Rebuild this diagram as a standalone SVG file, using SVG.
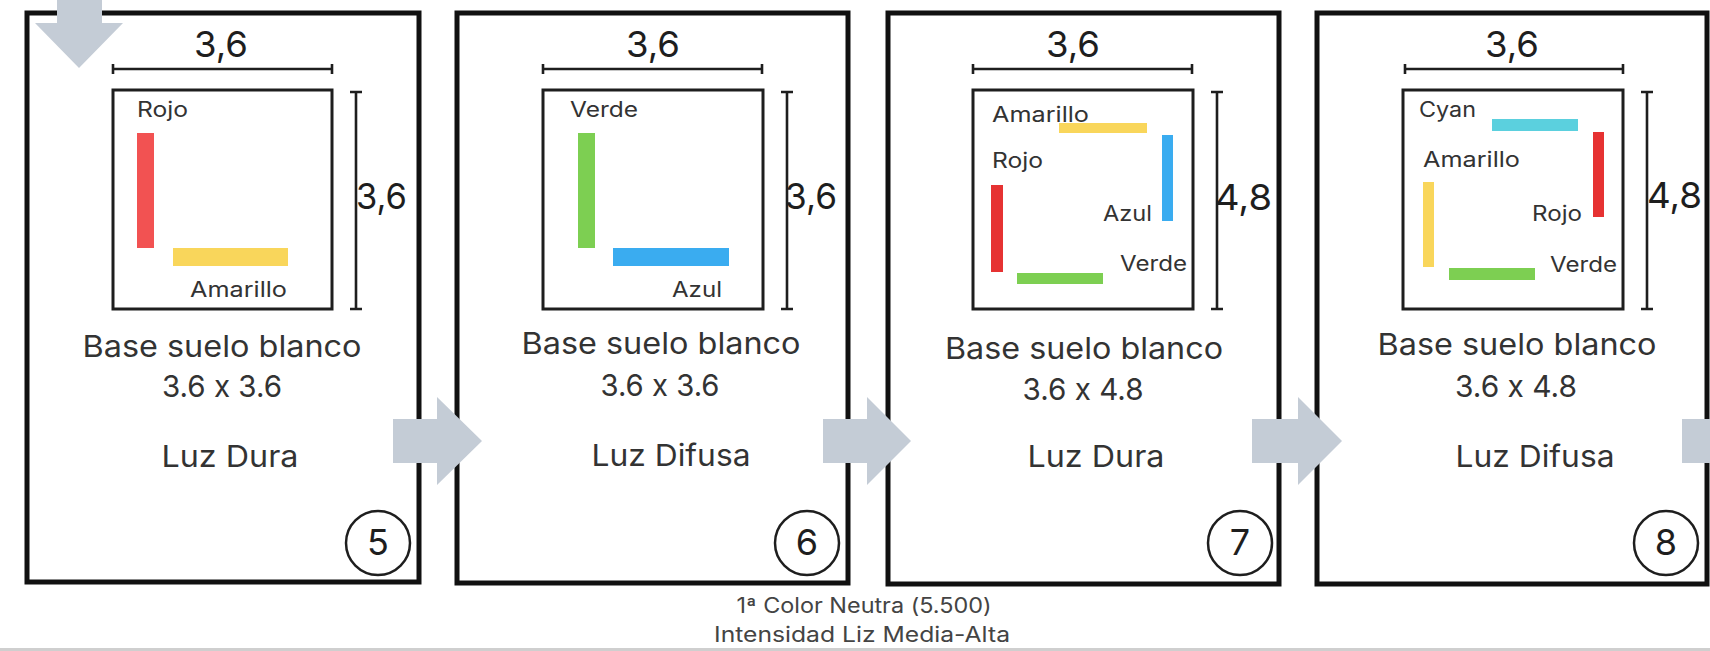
<svg xmlns="http://www.w3.org/2000/svg" width="1710" height="651" viewBox="0 0 1710 651">
<style>
text{font-family:Inter,"DejaVu Sans","Liberation Sans",sans-serif;fill:#2e2e2e;font-feature-settings:"calt" 0;font-variant-ligatures:none;}
.frame{fill:#fff;stroke:#111;stroke-width:5;}
.floor{fill:#fff;stroke:#1e1e1e;stroke-width:3;}
.dim{stroke:#1e1e1e;stroke-width:2.6;fill:none;}
.num{fill:none;stroke:#1e1e1e;stroke-width:2.5;}
.dl{font-size:36px;fill:#1e1e1e;}
.lbl{font-size:21px;fill:#333;}
.big{font-size:30px;fill:#333;text-anchor:middle;}
.cn{font-size:36px;fill:#1e1e1e;text-anchor:middle;}
.arr{fill:#c4ccd6;}
.foot{font-size:21px;fill:#444;text-anchor:middle;}
</style>
<rect x="0" y="0" width="1710" height="651" fill="#fff"/>
<line x1="0" y1="649.5" x2="1710" y2="649.5" stroke="#cfcfcf" stroke-width="3"/>

<g id="panel5">
<rect class="frame" x="27" y="13" width="392" height="569"/>
<path class="dim" d="M113,69H332M113,64V74M332,64V74"/>
<text class="dl" x="221" y="57" text-anchor="middle" textLength="54" lengthAdjust="spacingAndGlyphs">3,6</text>
<path class="dim" d="M356,92V309M350,92H362M350,309H362"/>
<text class="dl" x="356" y="209" textLength="51" lengthAdjust="spacingAndGlyphs">3,6</text>
<rect class="floor" x="113" y="90" width="219" height="219"/>
<text class="lbl" x="137" y="117" textLength="51" lengthAdjust="spacingAndGlyphs">Rojo</text>
<rect x="137" y="133" width="17" height="115" fill="#f25252"/>
<rect x="173" y="248" width="115" height="18" fill="#f9d65b"/>
<text class="lbl" x="190" y="297" textLength="97" lengthAdjust="spacingAndGlyphs">Amarillo</text>
<text class="big" x="222" y="357" textLength="279" lengthAdjust="spacingAndGlyphs">Base suelo blanco</text>
<text class="big" x="222" y="397" textLength="120" lengthAdjust="spacingAndGlyphs">3.6 x 3.6</text>
<text class="big" x="230" y="467" textLength="137" lengthAdjust="spacingAndGlyphs">Luz Dura</text>
<circle class="num" cx="378" cy="543" r="32"/>
<text class="cn" x="378" y="555">5</text>
</g>

<g id="panel6">
<rect class="frame" x="457" y="13" width="391" height="570"/>
<path class="dim" d="M543,69H762M543,64V74M762,64V74"/>
<text class="dl" x="653" y="57" text-anchor="middle" textLength="54" lengthAdjust="spacingAndGlyphs">3,6</text>
<path class="dim" d="M787,92V309M781,92H793M781,309H793"/>
<text class="dl" x="785" y="209" textLength="52" lengthAdjust="spacingAndGlyphs">3,6</text>
<rect class="floor" x="543" y="90" width="220" height="219"/>
<text class="lbl" x="570" y="117" textLength="68" lengthAdjust="spacingAndGlyphs">Verde</text>
<rect x="578" y="133" width="17" height="115" fill="#7dcf52"/>
<rect x="613" y="248" width="116" height="18" fill="#3aacf0"/>
<text class="lbl" x="672" y="297" textLength="50" lengthAdjust="spacingAndGlyphs">Azul</text>
<text class="big" x="661" y="354" textLength="279" lengthAdjust="spacingAndGlyphs">Base suelo blanco</text>
<text class="big" x="660" y="396" textLength="119" lengthAdjust="spacingAndGlyphs">3.6 x 3.6</text>
<text class="big" x="671" y="466" textLength="159" lengthAdjust="spacingAndGlyphs">Luz Difusa</text>
<circle class="num" cx="807" cy="543" r="32"/>
<text class="cn" x="807" y="555">6</text>
</g>

<g id="panel7">
<rect class="frame" x="888" y="13" width="391" height="571"/>
<path class="dim" d="M973,69H1192M973,64V74M1192,64V74"/>
<text class="dl" x="1073" y="57" text-anchor="middle" textLength="54" lengthAdjust="spacingAndGlyphs">3,6</text>
<path class="dim" d="M1217,92V309M1211,92H1223M1211,309H1223"/>
<text class="dl" x="1215" y="210" textLength="57" lengthAdjust="spacingAndGlyphs">4,8</text>
<rect class="floor" x="973" y="90" width="220" height="219"/>
<rect x="1059" y="123" width="88" height="10" fill="#f9d65b"/>
<text class="lbl" x="992" y="122" textLength="97" lengthAdjust="spacingAndGlyphs">Amarillo</text>
<text class="lbl" x="992" y="168" textLength="51" lengthAdjust="spacingAndGlyphs">Rojo</text>
<rect x="1162" y="135" width="11" height="86" fill="#3aacf0"/>
<rect x="991" y="185" width="12" height="87" fill="#e63232"/>
<text class="lbl" x="1103" y="221" textLength="49" lengthAdjust="spacingAndGlyphs">Azul</text>
<text class="lbl" x="1120" y="271" textLength="67" lengthAdjust="spacingAndGlyphs">Verde</text>
<rect x="1017" y="273" width="86" height="11" fill="#7dcf52"/>
<text class="big" x="1084" y="359" textLength="278" lengthAdjust="spacingAndGlyphs">Base suelo blanco</text>
<text class="big" x="1083" y="400" textLength="121" lengthAdjust="spacingAndGlyphs">3.6 x 4.8</text>
<text class="big" x="1096" y="467" textLength="137" lengthAdjust="spacingAndGlyphs">Luz Dura</text>
<circle class="num" cx="1240" cy="543" r="32"/>
<text class="cn" x="1240" y="555">7</text>
</g>

<g id="panel8">
<rect class="frame" x="1317" y="13" width="390" height="571"/>
<path class="dim" d="M1405,69H1623M1405,64V74M1623,64V74"/>
<text class="dl" x="1512" y="57" text-anchor="middle" textLength="54" lengthAdjust="spacingAndGlyphs">3,6</text>
<path class="dim" d="M1647,92V309M1641,92H1653M1641,309H1653"/>
<text class="dl" x="1647" y="208" textLength="55" lengthAdjust="spacingAndGlyphs">4,8</text>
<rect class="floor" x="1403" y="90" width="220" height="219"/>
<text class="lbl" x="1419" y="117" textLength="57" lengthAdjust="spacingAndGlyphs">Cyan</text>
<rect x="1492" y="119" width="86" height="12" fill="#5bd0de"/>
<rect x="1593" y="132" width="11" height="85" fill="#e63232"/>
<text class="lbl" x="1423" y="167" textLength="97" lengthAdjust="spacingAndGlyphs">Amarillo</text>
<rect x="1423" y="182" width="11" height="85" fill="#f9d65b"/>
<text class="lbl" x="1532" y="221" textLength="50" lengthAdjust="spacingAndGlyphs">Rojo</text>
<text class="lbl" x="1550" y="272" textLength="67" lengthAdjust="spacingAndGlyphs">Verde</text>
<rect x="1449" y="268" width="86" height="12" fill="#7dcf52"/>
<text class="big" x="1517" y="355" textLength="279" lengthAdjust="spacingAndGlyphs">Base suelo blanco</text>
<text class="big" x="1516" y="397" textLength="122" lengthAdjust="spacingAndGlyphs">3.6 x 4.8</text>
<text class="big" x="1535" y="467" textLength="159" lengthAdjust="spacingAndGlyphs">Luz Difusa</text>
<circle class="num" cx="1666" cy="543" r="32"/>
<text class="cn" x="1666" y="555">8</text>
</g>

<g id="connectors">
<polygon class="arr" points="57,0 102,0 102,23 123,23 79,68 35,23 57,23"/>
<polygon class="arr" points="393,419 437,419 437,397 482,441 437,485 437,463 393,463"/>
<polygon class="arr" points="823,419 867,419 867,397 911,441 867,485 867,463 823,463"/>
<polygon class="arr" points="1252,419 1298,419 1298,397 1342,441 1298,485 1298,463 1252,463"/>
<polygon class="arr" points="1682,419 1727,419 1727,397 1771,441 1727,485 1727,463 1682,463"/>
</g>

<g id="footer">
<text class="foot" x="864" y="613" textLength="255" lengthAdjust="spacingAndGlyphs">1ª Color Neutra (5.500)</text>
<text class="foot" x="862" y="642" textLength="296" lengthAdjust="spacingAndGlyphs">Intensidad Liz Media-Alta</text>
</g>
</svg>
